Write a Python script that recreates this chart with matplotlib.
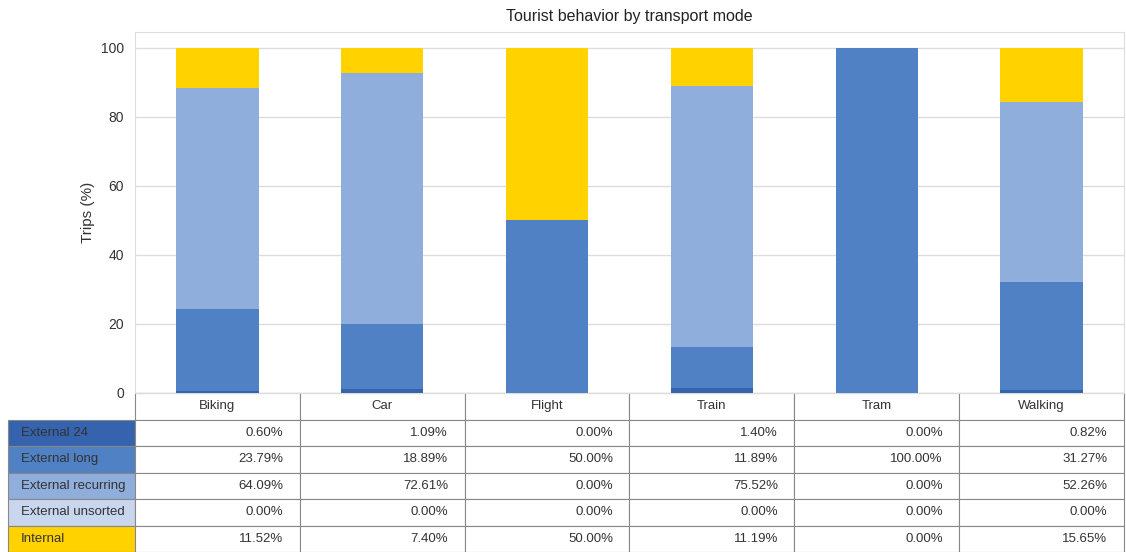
import matplotlib
matplotlib.use("Agg")
import matplotlib.pyplot as plt
import numpy as np

plt.rcParams["font.family"] = ["Liberation Sans", "DejaVu Sans"]

modes = ["Biking", "Car", "Flight", "Train", "Tram", "Walking"]
categories = ["External 24", "External long", "External recurring", "External unsorted", "Internal"]
external_24 = [0.60, 1.09, 0.00, 1.40, 0.00, 0.82]
external_long = [23.79, 18.89, 50.00, 11.89, 100.00, 31.27]
external_recurring = [64.09, 72.61, 0.00, 75.52, 0.00, 52.26]
external_unsorted = [0.00, 0.00, 0.00, 0.00, 0.00, 0.00]
internal = [11.52, 7.40, 50.00, 11.19, 0.00, 15.65]
colors = ["#3563AE", "#4F81C4", "#8FAEDC", "#C8D6EE", "#FFD200"]

series = [external_24, external_long, external_recurring, external_unsorted, internal]

fig = plt.figure(figsize=(11.26, 5.52), dpi=100)
ax = fig.add_axes([135 / 1126, 1 - 393 / 552, 989 / 1126, 361 / 552])

x = np.arange(len(modes))
bottom = np.zeros(len(modes))
for vals, col, name in zip(series, colors, categories):
    ax.bar(x, vals, 0.5, bottom=bottom, color=col, label=name, zorder=3)
    bottom += np.array(vals)

ax.set_xlim(-0.5, len(modes) - 0.5)
ax.set_ylim(0, 104.6)
ax.set_yticks([0, 20, 40, 60, 80, 100])
ax.set_xticks([])
ax.tick_params(axis="y", length=0, labelsize=10, colors="#333333", pad=8)
ax.grid(axis="y", color="#dddddd", linewidth=1, zorder=0)
for s in ax.spines.values():
    s.set_color("#dddddd")
ax.set_ylabel("Trips (%)", fontsize=11, color="#333333")
ax.set_title("Tourist behavior by transport mode", fontsize=11.5, color="#222222", pad=8)

# table below the axes: label column + one column per mode
cell_text = []
cell_colours = []
for name, vals, col in zip(categories, series, colors):
    cell_text.append([name] + ["%.2f%%" % v for v in vals])
    cell_colours.append([col] + ["white"] * len(modes))

lab_w = 127 / 989
tab = ax.table(cellText=cell_text, cellColours=cell_colours,
               colLabels=[""] + modes,
               colWidths=[lab_w] + [1 / len(modes)] * len(modes),
               cellLoc="right",
               bbox=[-lab_w, -159 / 361, 1 + lab_w, 159 / 361])
tab.auto_set_font_size(False)
for (r, c), cell in tab.get_celld().items():
    cell.set_edgecolor("#888888")
    cell.set_linewidth(0.8)
    txt = cell.get_text()
    txt.set_fontsize(9.5)
    txt.set_color("#333333")
    if r == 0:
        txt.set_ha("center")
        cell._loc = "center"
        if c == 0:
            cell.set_visible(False)
    elif c == 0:
        cell._loc = "left"
        txt.set_ha("left")

fig.savefig("out.png", dpi=100)
